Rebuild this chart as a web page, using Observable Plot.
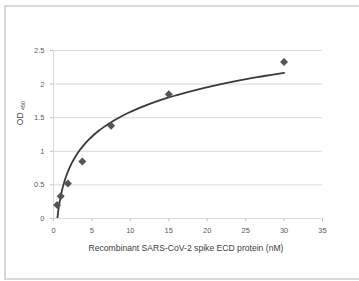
<!DOCTYPE html>
<html>
<head>
<meta charset="utf-8">
<script src="https://cdn.jsdelivr.net/npm/d3@7"></script>
<script src="https://cdn.jsdelivr.net/npm/@observablehq/plot@0.6"></script>
<style>
  html, body { margin: 0; padding: 0; background: #fff; overflow: hidden; }
  #wrap { position: relative; width: 359px; height: 281px; overflow: hidden; }
  #frame { position: absolute; left: 4px; top: 5px; width: 355px; height: 275px;
           border: 2px solid #d9d9d9; border-right: none; box-sizing: border-box; pointer-events: none; }
</style>
</head>
<body>
<div id="wrap"><div id="frame"></div></div>
<script>
const concentration = [0.469, 0.9375, 1.875, 3.75, 7.5, 15, 30];
const od450 = [0.20, 0.33, 0.52, 0.85, 1.38, 1.85, 2.33];
const xTicks = [0, 5, 10, 15, 20, 25, 30, 35];
const yTicks = [0, 0.5, 1, 1.5, 2, 2.5];
const xLabel = "Recombinant SARS-CoV-2 spike ECD protein (nM)";

const points = concentration.map((x, i) => ({x, y: od450[i]}));

// logarithmic trendline (least squares on ln x), as in the spreadsheet chart
const lx = concentration.map(Math.log);
const mx = d3.mean(lx), my = d3.mean(od450);
const a = d3.sum(lx, (v, i) => (v - mx) * (od450[i] - my)) / d3.sum(lx, v => (v - mx) ** 2);
const b = my - a * mx;
const [x0, x1] = d3.extent(concentration);
const trend = d3.range(0, 201).map(i => {
  const x = Math.exp(Math.log(x0) + (Math.log(x1) - Math.log(x0)) * i / 200);
  return {x, y: a * Math.log(x) + b};
});

const font = "'Liberation Sans', Arial, sans-serif";
const chart = Plot.plot({
  width: 359, height: 281,
  marginLeft: 53, marginRight: 37, marginTop: 50, marginBottom: 63,
  style: {fontFamily: font, fontSize: "7.5px", color: "#595959", background: "transparent", overflow: "visible"},
  x: {domain: [0, 35], ticks: xTicks, tickSize: 3, tickPadding: 4, label: null},
  y: {domain: [0, 2.5], ticks: yTicks, tickSize: 3, tickPadding: 3, label: null, tickFormat: d => String(d)},
  marks: [
    Plot.gridY(yTicks, {stroke: "#d9d9d9", strokeOpacity: 1, strokeWidth: 1}),
    Plot.ruleX([0], {stroke: "#d9d9d9", strokeWidth: 1}),
    Plot.ruleY([0], {stroke: "#d9d9d9", strokeWidth: 1}),
    Plot.axisX({ticks: xTicks, tickSize: 3, stroke: "#bfbfbf", fill: "#595959", label: null}),
    Plot.axisY({ticks: yTicks, tickSize: 3, stroke: "#bfbfbf", fill: "#595959", label: null, tickFormat: d => String(d)}),
    Plot.line(trend, {x: "x", y: "y", stroke: "#3a3a3a", strokeWidth: 1.8, clip: true}),
    Plot.dot(points, {x: "x", y: "y", symbol: "diamond2", r: 3.6, fill: "#555555", stroke: "none"})
  ]
});
document.getElementById("wrap").prepend(chart);

const svg = d3.select(chart);
const yl = svg.append("text")
  .attr("transform", "translate(23,113) rotate(-90)")
  .attr("text-anchor", "middle")
  .style("font-family", font).style("font-size", "8.5px").attr("fill", "#404040");
yl.append("tspan").text("OD ");
yl.append("tspan").attr("font-size", "5.5px").attr("dy", "2").text("450");

svg.append("text")
  .attr("x", 186).attr("y", 251)
  .attr("text-anchor", "middle")
  .style("font-family", font).style("font-size", "8.6px").attr("fill", "#404040")
  .text(xLabel);
</script>
</body>
</html>
